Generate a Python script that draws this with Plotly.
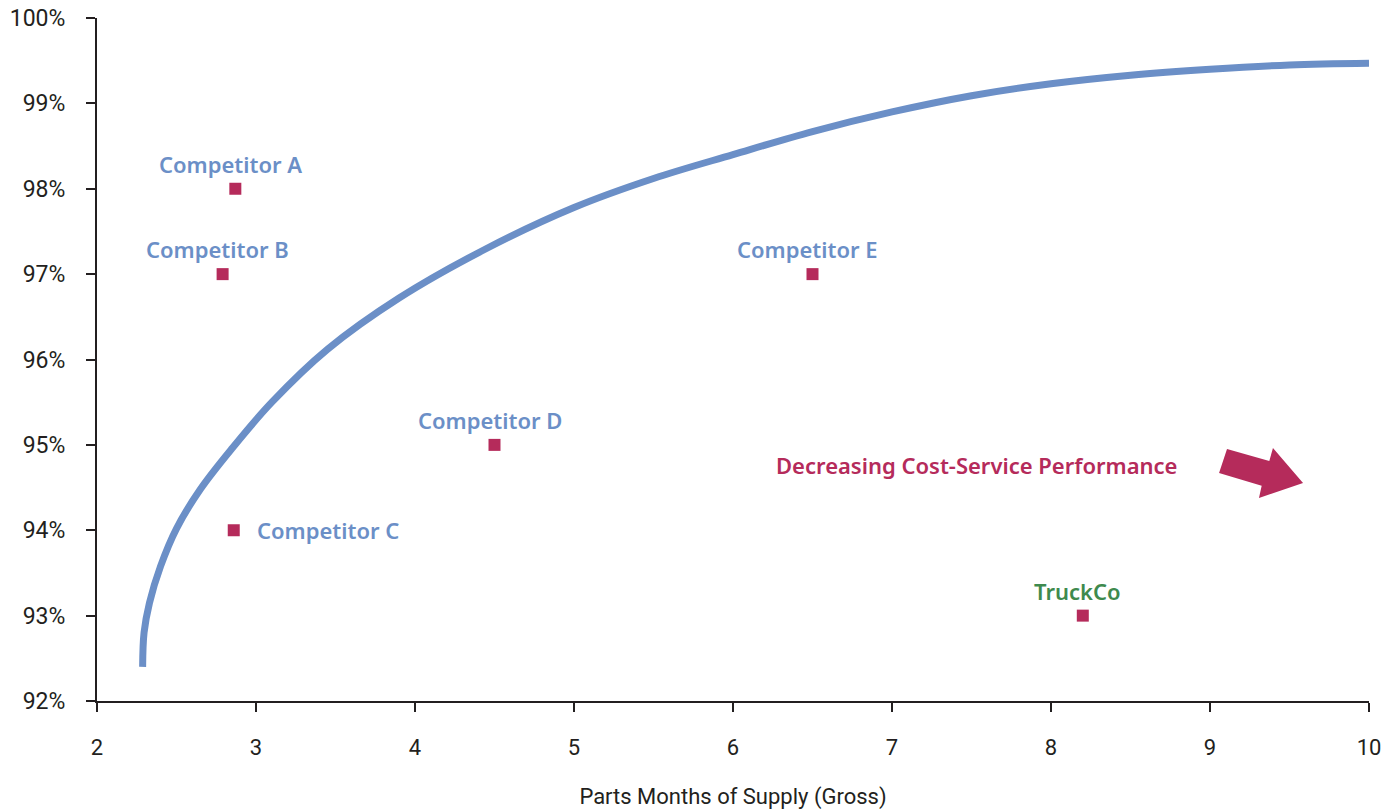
import plotly.graph_objects as go

# Efficient-frontier curve: service level vs. months of supply
curve_x = [2.287, 2.296, 2.33, 2.40, 2.50, 2.65, 2.85, 3.10, 3.45, 3.90, 4.45, 5.0,
           5.5, 6.0, 6.5, 7.0, 7.5, 8.0, 8.5, 9.0, 9.5, 10.0]
curve_y = [92.40, 92.80, 93.15, 93.58, 94.02, 94.48, 94.96, 95.50, 96.12, 96.72, 97.30, 97.78,
           98.12, 98.40, 98.67, 98.90, 99.09, 99.23, 99.33, 99.40, 99.45, 99.47]

# Company positions
names = ["Competitor A", "Competitor B", "Competitor C", "Competitor D", "Competitor E", "TruckCo"]
supply = [2.87, 2.79, 2.86, 4.5, 6.5, 8.2]
service = [98, 97, 94, 95, 97, 93]

y_ticks = [92, 93, 94, 95, 96, 97, 98, 99, 100]
y_labels = [f"{v}%" for v in y_ticks]
x_ticks = [2, 3, 4, 5, 6, 7, 8, 9, 10]

BLUE = "#6B8FC7"
RED = "#B52B5B"
GREEN = "#3E8A4E"
INK = "#231F20"
FONT = "Noto Sans"
TICK_FONT = "Roboto"

fig = go.Figure()
fig.add_trace(go.Scatter(
    x=curve_x, y=curve_y, mode="lines",
    line=dict(color=BLUE, width=7, shape="spline", smoothing=1.0),
    hoverinfo="skip", showlegend=False,
))
fig.add_trace(go.Scatter(
    x=supply, y=service, mode="markers",
    marker=dict(symbol="square", size=12, color=RED),
    text=names, showlegend=False,
))

annotations = []
for n, sx, sy in zip(names, supply, service):
    color = GREEN if n == "TruckCo" else BLUE
    if n == "Competitor C":
        annotations.append(dict(x=sx, y=sy, text=n, showarrow=False, xanchor="left",
                                yanchor="middle", xshift=21, yshift=0,
                                font=dict(family=FONT, size=22, color=color, weight=600)))
    else:
        annotations.append(dict(x=sx, y=sy, text=n, showarrow=False, xanchor="center",
                                yanchor="middle", xshift=-5, yshift=25,
                                font=dict(family=FONT, size=22, color=color, weight=600)))

annotations.append(dict(x=7.53, y=94.76, text="Decreasing Cost-Service Performance", showarrow=False,
                        xanchor="center", yanchor="middle",
                        font=dict(family=FONT, size=22, color=RED, weight=600)))

# Block arrow pointing down-right
arrow = [(9.107, 94.952), (9.373, 94.811), (9.396, 94.963), (9.585, 94.553),
         (9.308, 94.378), (9.325, 94.522), (9.057, 94.671)]
path = "M " + " L ".join(f"{ax},{ay}" for ax, ay in arrow) + " Z"

fig.update_layout(
    width=1398, height=810,
    margin=dict(l=97, r=29, t=18, b=109, autoexpand=False),
    paper_bgcolor="white", plot_bgcolor="white",
    font=dict(family=FONT, color=INK, size=20),
    annotations=annotations,
    shapes=[dict(type="path", path=path, xref="x", yref="y",
                 fillcolor=RED, line=dict(width=0))],
    xaxis=dict(
        range=[2, 10], tickvals=x_ticks, showgrid=False, zeroline=False, automargin=False,
        showline=True, linecolor=INK, linewidth=2,
        ticks="outside", ticklen=9, tickwidth=2, tickcolor=INK, ticklabelstandoff=17,
        tickfont=dict(family=TICK_FONT, size=22, color=INK),
        title=dict(text="Parts Months of Supply (Gross)", standoff=30,
                   font=dict(family=TICK_FONT, size=22, color=INK)),
    ),
    yaxis=dict(
        range=[92, 100], tickvals=y_ticks, ticktext=y_labels, showgrid=False, zeroline=False,
        automargin=False,
        showline=True, linecolor=INK, linewidth=2,
        ticks="outside", ticklen=9, tickwidth=2, tickcolor=INK, ticklabelstandoff=16,
        tickfont=dict(family=TICK_FONT, size=23, color=INK),
    ),
)

fig.write_html("out.html")
